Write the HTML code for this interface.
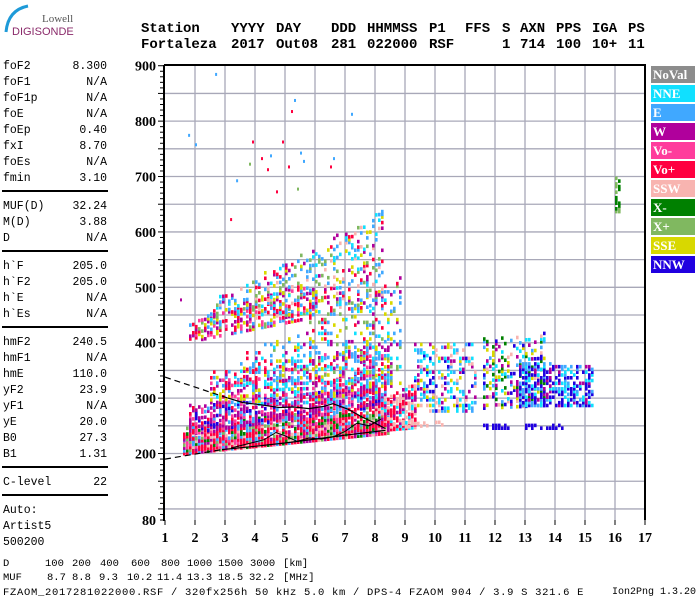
<!DOCTYPE html>
<html><head><meta charset="utf-8"><style>
body{margin:0;background:#fff;width:700px;height:600px;overflow:hidden;position:relative;font-family:"Liberation Mono",monospace}
.t{position:absolute;white-space:pre}
.hd{font:bold 14px "Liberation Mono",monospace;top:21px}
.hd2{font:bold 14px "Liberation Mono",monospace;top:37px}
.pl{position:absolute;left:3px;font-size:11.5px;width:104px;height:16px}
.pl span{position:absolute;right:0}
.rule{position:absolute;left:2px;width:106px;height:2px;background:#000}
.bt{position:absolute;font-size:10.5px;white-space:pre}
</style></head><body>
<svg style="position:absolute;left:0;top:0" width="90" height="45">
<path d="M28 6 Q8 10 6 32" stroke="#1e9ad8" stroke-width="3" fill="none"/>
<text x="42" y="22" font-family="Liberation Serif,serif" font-size="11" fill="#555">Lowell</text>
<text x="12" y="35" font-family="Liberation Sans,sans-serif" font-size="11" fill="#8a2a6a">DIGISONDE</text>
</svg>
<div class="t hd" style="left:141px">Station</div>
<div class="t hd" style="left:231px">YYYY</div>
<div class="t hd" style="left:276px">DAY</div>
<div class="t hd" style="left:331px">DDD</div>
<div class="t hd" style="left:367px">HHMMSS</div>
<div class="t hd" style="left:429px">P1</div>
<div class="t hd" style="left:465px">FFS</div>
<div class="t hd" style="left:502px">S</div>
<div class="t hd" style="left:520px">AXN</div>
<div class="t hd" style="left:556px">PPS</div>
<div class="t hd" style="left:592px">IGA</div>
<div class="t hd" style="left:628px">PS</div>
<div class="t hd2" style="left:141px">Fortaleza</div>
<div class="t hd2" style="left:231px">2017</div>
<div class="t hd2" style="left:276px">Out08</div>
<div class="t hd2" style="left:331px">281</div>
<div class="t hd2" style="left:367px">022000</div>
<div class="t hd2" style="left:429px">RSF</div>
<div class="t hd2" style="left:502px">1</div>
<div class="t hd2" style="left:520px">714</div>
<div class="t hd2" style="left:556px">100</div>
<div class="t hd2" style="left:592px">10+</div>
<div class="t hd2" style="left:628px">11</div>

<div id="panel"></div>

<svg id="chart" style="position:absolute;left:0;top:0" width="700" height="600"></svg>

<div class="bt" style="left:3px;top:558px">D</div>
<div class="bt" style="left:3px;top:572px">MUF</div>
<div id="bottomrows"></div>
<div class="bt" style="left:3px;top:587px;letter-spacing:0.7px">FZAOM_2017281022000.RSF / 320fx256h 50 kHz 5.0 km / DPS-4 FZAOM 904 / 3.9 S 321.6 E</div>
<div class="bt" style="left:612px;top:587px;font-size:10px">Ion2Png 1.3.20</div>

<script>
// ---------- data ----------
const panelLabels = ["foF2","foF1","foF1p","foE","foEp","fxI","foEs","fmin","|","MUF(D)","M(D)","D","|","h`F","h`F2","h`E","h`Es","|","hmF2","hmF1","hmE","yF2","yF1","yE","B0","B1","|","C-level","|","Auto:","Artist5","500200"];
const panelValues = ["8.300","N/A","N/A","N/A","0.40","8.70","N/A","3.10","","32.24","3.88","N/A","","205.0","205.0","N/A","N/A","","240.5","N/A","110.0","23.9","N/A","20.0","27.3","1.31","","22","","","",""];
const distLabels = ["100","200","400","600","800","1000","1500","3000","[km]"];
const mufLabels = ["8.7","8.8","9.3","10.2","11.4","13.3","18.5","32.2","[MHz]"];
const xTicks = [1,2,3,4,5,6,7,8,9,10,11,12,13,14,15,16,17];
const yTickLabels = [900,800,700,600,500,400,300,200,80];
const legendNames = ["NoVal","NNE","E","W","Vo-","Vo+","SSW","X-","X+","SSE","NNW"];
const legendColors = ["#8c8c8c","#10e0ff","#40a8ff","#b0009c","#ff3c9c","#ff0040","#f8b4b0","#008000","#80b860","#d8d800","#2000e0"];
// echo regions: fLo,fHi, hLo@fLo,hHi@fLo, hLo@fHi,hHi@fHi, density, colour indices
const echoRegions = [
 [1.6,3.3,222,236,222,236,0.9,[2,2,2,2,1,4]],
 [1.6,8.4,203,250,240,300,0.9,[5,5,5,5,3,4,8,7,6,2]],
 [1.8,8.3,240,290,290,330,0.6,[3,3,3,5,4,2,10]],
 [2.5,8.5,290,350,300,400,0.4,[3,3,2,5,4,1,9]],
 [3.5,8.8,330,380,330,520,0.25,[2,2,3,5,1,9,8]],
 [1.8,6.0,405,440,450,520,0.45,[5,5,2,3,8,9,4]],
 [2.5,8.2,440,480,470,640,0.25,[2,2,5,3,9,8,6,1]],
 [8.2,9.3,245,300,250,330,0.75,[6,6,5,5,3,1]],
 [8.6,10.2,250,265,255,262,0.5,[6]],
 [9.3,11.3,280,400,280,400,0.4,[1,1,2,3,10,6,9]],
 [11.6,13.6,285,410,290,420,0.38,[3,10,9,1,2,6,7]],
 [12.8,15.2,290,370,290,360,0.6,[10,10,10,2,1,3]],
 [11.6,14.2,249,254,249,254,0.5,[10]],
 [16.0,16.05,640,700,640,700,0.6,[7,8]]
];
const sparseF = [1.77,2.67,3.17,3.37,3.9,4.2,4.5,4.4,4.9,5.1,5.2,5.3,5.5,5.6,6.5,6.6,7.2,5.4,4.7,3.8,2.0,1.5];
const sparseH = [777,887,625,695,765,735,740,715,765,720,820,840,745,730,720,735,815,680,675,725,760,480];
const sparseC = [2,2,5,2,5,5,2,5,5,5,5,2,2,2,5,2,2,8,5,8,2,3];
const upperTraceF = [3.1,3.6,4.2,4.8,5.3,5.8,6.3,6.6,7.1,7.6,8.0,8.35];
const upperTraceH = [300,292,288,283,284,281,285,290,280,265,255,245];
const upperDashF = [1.0,3.1];
const upperDashH = [338,300];
const lowerTraceF = [2.9,4.0,5.0,6.0,7.0,8.35];
const lowerTraceH = [207,213,219,226,233,242];
const lowerDashF = [1.0,2.9];
const lowerDashH = [190,207];
const innerTraceF = [3.2,3.8,4.3,4.7,5.0,5.4,5.8,6.2,6.6,7.0,7.4,7.8,8.2];
const innerTraceH = [210,218,225,238,232,222,228,226,230,240,255,250,262];

// ---------- axes ----------
const X = f => 165 + 30*(f-1);
const Y = h => 520 - (h-80)*0.554;
const NS = "http://www.w3.org/2000/svg";
const svg = document.getElementById('chart');
function mk(tag, attrs){const e=document.createElementNS(NS,tag);for(const k in attrs)e.setAttribute(k,attrs[k]);svg.appendChild(e);return e;}

// panel
const panel = document.getElementById('panel');
let py = 60;
panelLabels.forEach((lab,i)=>{
  if(lab==="|"){const r=document.createElement('div');r.className='rule';r.style.top=(py+2)+'px';
    
    
    panel.appendChild(r);py+=12;return;}
  const d=document.createElement('div');d.className='pl';d.style.top=py+'px';
  d.innerHTML=lab+'<span>'+panelValues[i]+'</span>';
  
  
  panel.appendChild(d);py+=16;
});

// bottom rows
const dX=[45,72,100,131,161,187,218,250,283];
const mX=[47,72,99,127,157,187,218,249,283];
const br=document.getElementById('bottomrows');
distLabels.forEach((t,i)=>{const d=document.createElement('div');d.className='bt';d.style.left=dX[i]+'px';d.style.top='558px';d.textContent=t;
  
  
  br.appendChild(d);});
mufLabels.forEach((t,i)=>{const d=document.createElement('div');d.className='bt';d.style.left=mX[i]+'px';d.style.top='572px';d.textContent=t;
  
  
  br.appendChild(d);});

// grid
for(let h=100;h<900;h+=50){const l=mk('line',{x1:165,x2:645,y1:Y(h),y2:Y(h),stroke:'#a8a8b8','stroke-width':1.3});
  
  }
for(let f=2;f<=16;f++){const l=mk('line',{x1:X(f),x2:X(f),y1:65,y2:520,stroke:'#a8a8b8','stroke-width':1.3});
  
  }

// echoes (deterministic texture fill)
function hash(a,b,c){let x=(Math.imul(a|0,374761393)+Math.imul(b|0,668265263)+Math.imul(c|0,2246822519))|0;
  x=Math.imul(x^(x>>>13),1274126177);x=x^(x>>>16);return (x>>>0)/4294967296;}
echoRegions.forEach((r,ri)=>{
  const [fLo,fHi,a0,b0,a1,b1,den,cols]=r;
  const n=Math.round((fHi-fLo)/0.1);
  for(let s=0;s<=n;s++){
    const f=fLo+s*0.1;
    const t=(fHi>fLo)?(f-fLo)/(fHi-fLo):0;
    const hl=a0+(a1-a0)*t, hh=b0+(b1-b0)*t;
    for(let h=hl;h<=hh;h+=5){
      const k=(h-hl)/Math.max(hh-hl,1);
      const d=den*(1.2-0.4*k);
      const fi=Math.round(f*10), hi=Math.round(h/5);
      if(hash(fi,hi,ri+1)<d){
        const c=cols[Math.floor(hash(hi+91,fi+17,ri+31)*cols.length)];
        const e=mk('rect',{x:X(f).toFixed(1),y:Y(h).toFixed(1),width:2.6,height:3.6,fill:legendColors[c]});
        
        
      }
    }
  }
});
sparseF.forEach((f,i)=>{const e=mk('rect',{x:X(f),y:Y(sparseH[i]),width:2,height:3,fill:legendColors[sparseC[i]]});
  
  });

// traces
function poly(F,H,dash,w,name){const p=F.map((f,i)=>X(f).toFixed(1)+','+Y(H[i]).toFixed(1)).join(' ');
  const e=mk('polyline',{points:p,fill:'none',stroke:'#000','stroke-width':w,'stroke-dasharray':dash});
  
  }
poly(upperDashF,upperDashH,'6,4',1.2,'upper-trace-extrapolation');
poly(upperTraceF,upperTraceH,'none',1.2,'upper-trace');
poly(lowerDashF,lowerDashH,'6,4',1.2,'lower-trace-extrapolation');
poly(lowerTraceF,lowerTraceH,'none',1.2,'lower-trace');
poly(innerTraceF,innerTraceH,'none',1,'virtual-height-trace');

// frame
[['line',{x1:164,x2:646,y1:65,y2:65}],['line',{x1:645,x2:645,y1:65,y2:520}],['line',{x1:164,x2:164,y1:65,y2:521}]].forEach(([t,a])=>{
  a.stroke='#000';a['stroke-width']=2;const e=mk(t,a);
  
  });
for(let h=80;h<=900;h+=10){const big=(h%50===0);const e=mk('line',{x1:big?158:160,x2:164,y1:Y(h),y2:Y(h),stroke:'#000','stroke-width':1});
  
  }
yTickLabels.forEach(v=>{const e=mk('text',{x:156,y:Y(v)+5,'text-anchor':'end','font-family':'Liberation Serif,serif','font-weight':'bold','font-size':14});
  e.textContent=v;
  
  });
xTicks.forEach(f=>{const t=mk('line',{x1:X(f),x2:X(f),y1:520,y2:525,stroke:'#000','stroke-width':1});
  
  
  const e=mk('text',{x:X(f),y:542,'text-anchor':'middle','font-family':'Liberation Serif,serif','font-weight':'bold','font-size':14});
  e.textContent=f;
  
  });

// legend
legendNames.forEach((n,i)=>{
  const r=mk('rect',{x:651,y:66+i*19,width:44,height:17,fill:legendColors[i]});
  
  
  const t=mk('text',{x:653,y:79+i*19,'font-family':'Liberation Serif,serif','font-weight':'bold','font-size':13,fill:'#fff'});
  t.textContent=n;
  
  
});
</script>
</body></html>
